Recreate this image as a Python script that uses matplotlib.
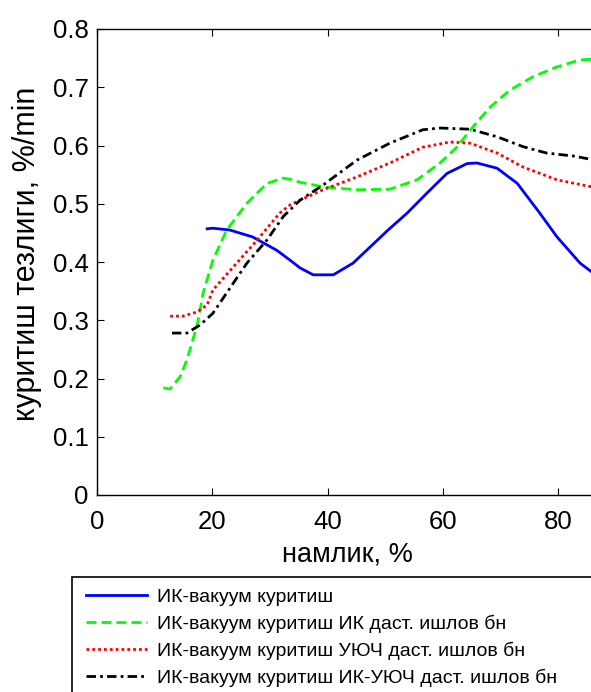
import matplotlib
matplotlib.use('Agg')
import matplotlib.pyplot as plt
from matplotlib.patches import Rectangle

plt.rcParams['font.family'] = ['Liberation Sans', 'DejaVu Sans']

# ИК-вакуум куритиш
blue_x = [19.1, 20.1, 23.0, 27.0, 31.2, 33.5, 35.2, 37.5, 41.0, 44.4, 47.4, 50.5, 53.8,
          57.2, 60.7, 64.2, 65.9, 69.4, 72.9, 76.8, 79.8, 83.8, 85.8]
blue_y = [0.457, 0.458, 0.455, 0.443, 0.420, 0.403, 0.390, 0.378, 0.378, 0.398, 0.426,
          0.455, 0.484, 0.518, 0.552, 0.569, 0.570, 0.561, 0.535, 0.484, 0.443, 0.398, 0.383]

# ИК даст. ишлов бн
green_x = [11.5, 12.7, 14.4, 15.6, 17.3, 17.9, 18.4, 20.1, 22.5, 26.0, 29.5, 32.3, 33.5,
           35.2, 39.2, 45.1, 50.8, 55.5, 59.5, 62.4, 65.2, 68.2, 71.6, 75.6, 79.8, 83.8, 85.8]
green_y = [0.184, 0.182, 0.203, 0.232, 0.289, 0.318, 0.347, 0.403, 0.455, 0.501, 0.535,
           0.544, 0.542, 0.537, 0.529, 0.524, 0.525, 0.541, 0.570, 0.597, 0.632, 0.666,
           0.695, 0.718, 0.735, 0.747, 0.748]

# УЮЧ даст. ишлов бн
red_x = [12.7, 14.9, 17.3, 19.1, 20.1, 23.6, 27.8, 31.7, 33.5, 35.2, 39.2, 45.1, 50.8,
         56.5, 61.2, 64.7, 69.4, 73.9, 79.8, 85.8]
red_y = [0.307, 0.307, 0.314, 0.326, 0.352, 0.391, 0.438, 0.484, 0.498, 0.506, 0.524,
         0.546, 0.570, 0.597, 0.606, 0.604, 0.587, 0.563, 0.541, 0.529]

# ИК-УЮЧ даст. ишлов бн
black_x = [13.0, 15.6, 17.9, 20.1, 22.5, 26.0, 29.5, 32.3, 35.2, 39.2, 45.1, 50.8, 56.5,
           59.5, 64.7, 69.4, 73.9, 78.0, 82.6, 85.8]
black_y = [0.278, 0.278, 0.292, 0.312, 0.347, 0.398, 0.438, 0.478, 0.506, 0.532, 0.575,
           0.604, 0.627, 0.630, 0.628, 0.615, 0.598, 0.587, 0.582, 0.576]

labels = ['ИК-вакуум куритиш',
          'ИК-вакуум куритиш ИК даст. ишлов бн',
          'ИК-вакуум куритиш УЮЧ даст. ишлов бн',
          'ИК-вакуум куритиш ИК-УЮЧ даст. ишлов бн']

fig = plt.figure(figsize=(5.91, 6.92), dpi=100)
ax = fig.add_axes([97 / 591, 197 / 692, 576.5 / 591, 466 / 692])

ax.plot(blue_x, blue_y, '-', color='#0000ff', lw=2.0, label=labels[0])
ax.plot(green_x, green_y, '--', color='#00ff00', lw=2.0, dashes=(3.6, 1.8), label=labels[1])
ax.plot(red_x, red_y, ':', color='#ff0000', lw=2.0, dashes=(1, 1.1), label=labels[2])
ax.plot(black_x, black_y, '-.', color='black', lw=2.0, dashes=(3.4, 1.5, 1, 1.5), label=labels[3])

ax.set_xlim(0, 100)
ax.set_ylim(0, 0.8)
ax.set_xticks([0, 20, 40, 60, 80])
ax.set_yticks([0, 0.1, 0.2, 0.3, 0.4, 0.5, 0.6, 0.7, 0.8])
ax.set_yticklabels(['0', '0.1', '0.2', '0.3', '0.4', '0.5', '0.6', '0.7', '0.8'])
ax.tick_params(direction='in', top=True, right=True, labelsize=18.5, length=5, width=0.8)
ax.tick_params(axis='x', pad=11)
ax.tick_params(axis='y', pad=6)
for s in ax.spines.values():
    s.set_linewidth(1.0)
ax.set_xlabel('намлик, %', fontsize=19.5)
ax.set_ylabel('куритиш тезлиги, %/min', fontsize=22)
ax.xaxis.set_label_coords(0.435, -0.10)
ax.yaxis.set_label_coords(-0.096, 0.517)

fig.patches.append(Rectangle((72 / 591, -0.1), 1.0, 0.1 + 1 - 577 / 692,
                             transform=fig.transFigure, fill=False, ec='black', lw=1.2))
fig.legend(loc='upper left', bbox_to_anchor=(86 / 591, 1 - 588 / 692), frameon=False,
           fontsize=14, handlelength=3.14, handletextpad=0.52, labelspacing=0.45,
           borderpad=0.0, borderaxespad=0.0)

fig.savefig('out.png', dpi=100)
